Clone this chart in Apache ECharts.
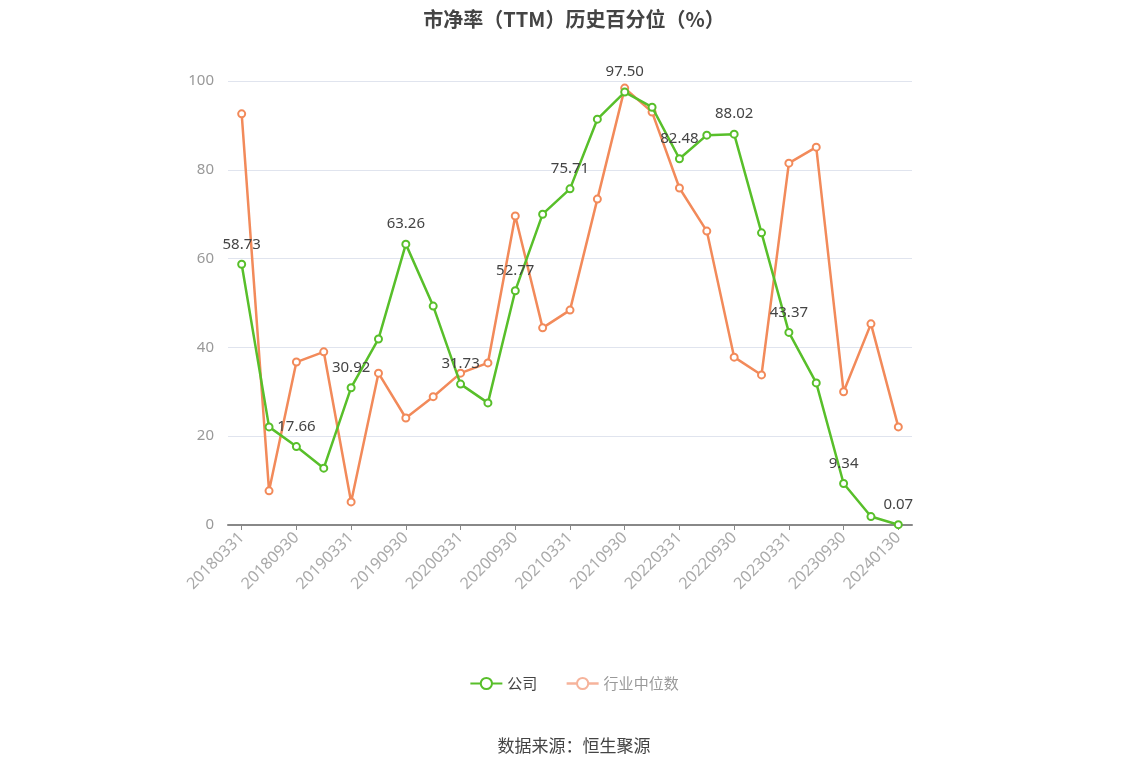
<!DOCTYPE html>
<html>
<head>
<meta charset="utf-8">
<script src="https://cdn.jsdelivr.net/npm/echarts@6/dist/echarts.min.js"></script>
<style>
html,body{margin:0;padding:0;background:#fff;}
#chart{width:1148px;height:776px;}
</style>
</head>
<body>
<div id="chart"></div>
<script>
const categories = ['20180331','20180630','20180930','20181231','20190331','20190630','20190930','20191231','20200331','20200630','20200930','20201231','20210331','20210630','20210930','20211231','20220331','20220630','20220930','20221231','20230331','20230630','20230930','20231231','20240130'];
const companyValues = [58.73,22.1,17.66,12.8,30.92,41.9,63.26,49.3,31.73,27.5,52.77,70.0,75.71,91.4,97.50,94.1,82.48,87.8,88.02,65.8,43.37,32.0,9.34,1.9,0.07];
const industryValues = [92.6,7.7,36.7,39.0,5.2,34.2,24.1,28.9,34.2,36.5,69.6,44.4,48.4,73.4,98.4,93.0,75.9,66.2,37.8,33.8,81.5,85.1,30.0,45.3,22.1];
const yTicks = [0,20,40,60,80,100];
const seriesNames = ['公司','行业中位数'];
const titleText = '市净率（TTM）历史百分位（%）';
const sourceText = '数据来源：恒生聚源';

const green = '#58bf2a';
const orange = '#f28a5a';
const fadedOrange = '#f6b39b';

const companyData = companyValues.map((v,i)=>({
  value: v,
  label: { show: i % 2 === 0 }
}));

const chart = echarts.init(document.getElementById('chart'));
chart.setOption({
  backgroundColor: '#fff',
  animation: false,
  title: {
    text: titleText,
    left: 'center',
    top: 4,
    textStyle: { fontSize: 20, fontWeight: 'bold', color: '#444', fontFamily: 'Noto Sans CJK SC' }
  },
  legend: {
    bottom: 80,
    left: 'center',
    itemWidth: 32,
    itemHeight: 14,
    itemGap: 28,
    textStyle: { fontSize: 15, color: '#444', fontFamily: 'Noto Sans CJK SC' },
    data: [
      { name: seriesNames[0] },
      { name: seriesNames[1],
        itemStyle: { color: fadedOrange, borderColor: fadedOrange, borderWidth: 2 },
        lineStyle: { color: fadedOrange, width: 2.5, type: 'solid' },
        textStyle: { color: '#999' } }
    ]
  },
  graphic: [{
    type: 'text',
    left: 'center',
    top: 737,
    style: { text: sourceText, fontSize: 17, fill: '#444', fontFamily: 'Noto Sans CJK SC' }
  }],
  grid: { left: 228, right: 236, top: 81, bottom: 251 },
  xAxis: {
    type: 'category',
    data: categories,
    boundaryGap: true,
    axisLine: { lineStyle: { color: '#888', width: 2 } },
    axisTick: { show: true, alignWithLabel: true, interval: 1, lineStyle: { color: '#888' } },
    axisLabel: { interval: 1, rotate: 45, color: '#aaa', fontSize: 16, margin: 10, fontFamily: 'Noto Sans' }
  },
  yAxis: {
    type: 'value',
    min: yTicks[0],
    max: yTicks[yTicks.length-1],
    interval: 20,
    axisLine: { show: false },
    axisTick: { show: false },
    axisLabel: { color: '#999', fontSize: 15, margin: 14, fontFamily: 'Noto Sans' },
    splitLine: { lineStyle: { color: '#e0e4ee' } }
  },
  series: [
    {
      name: seriesNames[0],
      type: 'line',
      data: companyData,
      symbol: 'emptyCircle',
      symbolSize: 7,
      z: 3,
      lineStyle: { color: green, width: 2.5 },
      itemStyle: { color: green, borderWidth: 2 },
      label: {
        position: 'top',
        distance: 8,
        color: '#444',
        fontSize: 15,
        fontFamily: 'Noto Sans',
        formatter: p => p.value.toFixed(2)
      }
    },
    {
      name: seriesNames[1],
      type: 'line',
      data: industryValues,
      symbol: 'emptyCircle',
      symbolSize: 7,
      z: 2,
      lineStyle: { color: orange, width: 2.5 },
      itemStyle: { color: orange, borderWidth: 2 }
    }
  ]
});
</script>
</body>
</html>
